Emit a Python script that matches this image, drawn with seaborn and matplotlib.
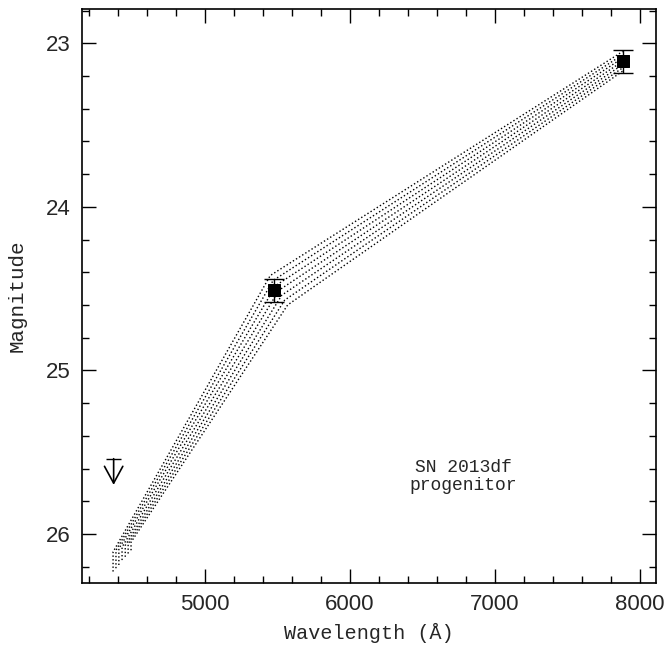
import numpy as np
import pandas as pd
import matplotlib
matplotlib.use("Agg")
import matplotlib.pyplot as plt
import seaborn as sns

# photometry of the progenitor
wave = [5475, 7880]
mag = [24.51, 23.11]
mag_err = [0.07, 0.07]

# upper limit in the blue
lim_wave = 4370
lim_mag = 25.54

# model SED tracks (dotted band): start bottom, start top, kink, end
model_x0 = [4366, 4386, 4406, 4428, 4450, 4470, 4490]
model_y0_bot = [26.23, 26.21, 26.19, 26.16, 26.14, 26.12, 26.10]
model_y0_top = [26.11, 26.10, 26.09, 26.08, 26.07, 26.06, 26.05]
model_xk = [5450, 5470, 5490, 5510, 5530, 5550, 5570]
model_yk = [24.42, 24.45, 24.48, 24.51, 24.54, 24.57, 24.60]
model_x1 = [7880, 7880, 7880, 7880, 7880, 7880, 7880]
model_y1 = [23.05, 23.07, 23.09, 23.11, 23.13, 23.15, 23.17]

rows = []
for i in range(len(model_x0)):
    pts = [(model_x0[i], model_y0_bot[i]), (model_x0[i], model_y0_top[i]),
           (model_xk[i], model_yk[i]), (model_x1[i], model_y1[i])]
    for j, (x, y) in enumerate(pts):
        rows.append({"model": i, "order": j, "wave": x, "mag": y})
models = pd.DataFrame(rows)
phot = pd.DataFrame({"wave": wave, "mag": mag})

sns.set_style("ticks")
plt.rcParams["font.family"] = ["Liberation Mono", "DejaVu Sans Mono"]

fig = plt.figure(figsize=(6.68, 6.5), dpi=100)
ax = fig.add_axes([0.1228, 0.1031, 0.8592, 0.8831])

sns.lineplot(data=models, x="wave", y="mag", units="model", estimator=None,
             sort=False, color="black", linestyle=":", linewidth=1.0, ax=ax)

ax.errorbar(wave, mag, yerr=mag_err, fmt="none", ecolor="black",
            elinewidth=1.0, capsize=7, capthick=1.0)
sns.scatterplot(data=phot, x="wave", y="mag", marker="s", s=80,
                color="black", edgecolor="black", ax=ax, zorder=5)

# upper limit
ax.errorbar([lim_wave], [lim_mag], xerr=[50], fmt="none", ecolor="black",
            elinewidth=1.0, capsize=0)
ax.annotate("", xy=(lim_wave, lim_mag + 0.16), xytext=(lim_wave, lim_mag),
            arrowprops=dict(arrowstyle="->,head_length=0.55,head_width=0.3",
                            color="black", lw=1.2,
                            mutation_scale=22, shrinkA=0, shrinkB=0))

ax.text(6780, 25.65, "SN 2013df\nprogenitor", ha="center", va="center",
        multialignment="center", fontsize=13, linespacing=1.05)

ax.set_xlim(4152, 8110)
ax.set_ylim(26.30, 22.79)
ax.set_xticks([5000, 6000, 7000, 8000])
ax.set_xticks(np.arange(4200, 8101, 200), minor=True)
ax.set_yticks([23, 24, 25, 26])
ax.set_yticks(np.arange(22.8, 26.31, 0.2), minor=True)
ax.tick_params(which="both", direction="in", top=True, right=True,
               width=1.0, color="black")
ax.tick_params(which="major", length=10, pad=8)
ax.tick_params(which="minor", length=5)
for lab in ax.get_xticklabels() + ax.get_yticklabels():
    lab.set_fontfamily("Liberation Sans")
    lab.set_fontsize(16)
for s in ax.spines.values():
    s.set_linewidth(1.2)
    s.set_color("black")

ax.set_xlabel("Wavelength (Å)", fontsize=14.5, labelpad=6)
ax.set_ylabel("Magnitude", fontsize=15, labelpad=14)

fig.savefig("out.png", dpi=100)
